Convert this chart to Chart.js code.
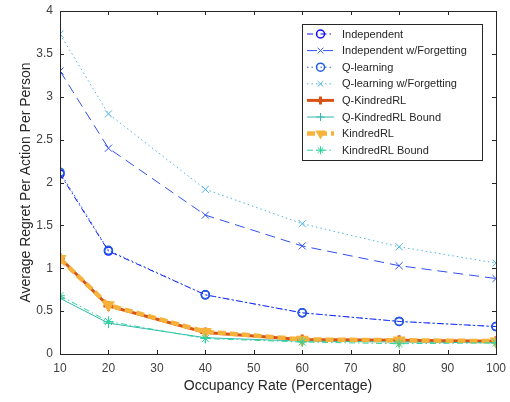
<!DOCTYPE html>
<html>
<head>
<meta charset="utf-8">
<script src="https://cdn.jsdelivr.net/npm/chart.js@4/dist/chart.umd.min.js"></script>
<style>
  body { margin: 0; background: #fff; }
  #wrap { width: 510px; height: 402px; }
</style>
</head>
<body>
<div id="wrap"><canvas id="regretChart" width="510" height="402"></canvas></div>
<script>
// Occupancy rate (x) values
const occupancy = [10, 20, 40, 60, 80, 100];

// Series values
const independent = [2.10, 1.20, 0.69, 0.48, 0.38, 0.32];
const independentForget = [3.30, 2.40, 1.62, 1.26, 1.03, 0.88];
const qLearning = [2.12, 1.21, 0.69, 0.48, 0.38, 0.32];
const qLearningForget = [3.73, 2.80, 1.92, 1.52, 1.25, 1.06];
const qKindred = [1.12, 0.56, 0.25, 0.17, 0.16, 0.15];
const qKindredBound = [0.65, 0.36, 0.19, 0.15, 0.14, 0.13];
const kindred = [1.11, 0.57, 0.26, 0.17, 0.16, 0.15];
const kindredBound = [0.68, 0.38, 0.18, 0.14, 0.12, 0.13];

const xTicks = [10, 20, 30, 40, 50, 60, 70, 80, 90, 100];
const yTicks = [0, 0.5, 1, 1.5, 2, 2.5, 3, 3.5, 4];
const yTickLabels = ["0", "0.5", "1", "1.5", "2", "2.5", "3", "3.5", "4"];

const FONT = "'Liberation Sans', Arial, sans-serif";
const AXIS = "#262626";

function pts(vals) {
    return occupancy.map((x, i) => ({ x: x, y: vals[i] }));
}

// series definitions (style only)
const series = [
    { label: "Independent", data: independent, color: "#1010ff", width: 1, dash: [6, 3, 1.5, 3], marker: "circle", r: 4, fill: false, mw: 1.5 },
    { label: "Independent w/Forgetting", data: independentForget, color: "#3050f0", width: 1, dash: [10, 6], marker: "crossRot", r: 5, fill: false, mw: 1 },
    { label: "Q-learning", data: qLearning, color: "#1f5fe0", width: 1, dash: [1.5, 3], marker: "circle", r: 4, fill: false, mw: 1.5 },
    { label: "Q-learning w/Forgetting", data: qLearningForget, color: "#4db4e6", width: 1, dash: [1.5, 3], marker: "crossRot", r: 5, fill: false, mw: 1 },
    { label: "Q-KindredRL", data: qKindred, color: "#d95319", width: 3, dash: [], marker: "cross", r: 5, fill: false, mw: 3 },
    { label: "Q-KindredRL Bound", data: qKindredBound, color: "#2fb8b0", width: 1, dash: [], marker: "cross", r: 5, fill: false, mw: 1 },
    { label: "KindredRL", data: kindred, color: "#f7b23b", width: 4.5, dash: [8, 4], marker: "triangle", r: 5.5, fill: true, mw: 2, rot: 180 },
    { label: "KindredRL Bound", data: kindredBound, color: "#2ed39a", width: 1, dash: [6, 3, 1.5, 3], marker: "star", r: 5, fill: false, mw: 1 }
];

const datasets = series.map((s, i) => ({
    label: s.label,
    data: pts(s.data),
    borderColor: s.color,
    backgroundColor: s.color,
    borderWidth: s.width,
    borderDash: s.dash,
    tension: 0,
    fill: false,
    pointStyle: s.marker,
    pointRadius: s.r,
    pointRotation: s.rot || 0,
    pointBorderColor: s.color,
    pointBackgroundColor: s.fill ? s.color : "rgba(0,0,0,0)",
    pointBorderWidth: s.mw,
    order: series.length - i // later series on top, like matlab
}));

// frame + inward ticks (matlab box style)
const framePlugin = {
    id: "frame",
    afterDraw(chart) {
        const { ctx, chartArea: a, scales } = chart;
        ctx.save();
        ctx.strokeStyle = AXIS;
        ctx.lineWidth = 1;
        ctx.setLineDash([]);
        ctx.strokeRect(Math.round(a.left) + 0.5, Math.round(a.top) + 0.5, Math.round(a.right - a.left), Math.round(a.bottom - a.top));
        const tl = 4;
        ctx.beginPath();
        xTicks.forEach(v => {
            const x = Math.round(scales.x.getPixelForValue(v)) + 0.5;
            ctx.moveTo(x, a.bottom); ctx.lineTo(x, a.bottom - tl);
            ctx.moveTo(x, a.top); ctx.lineTo(x, a.top + tl);
        });
        yTicks.forEach(v => {
            const y = Math.round(scales.y.getPixelForValue(v)) + 0.5;
            ctx.moveTo(a.left, y); ctx.lineTo(a.left + tl, y);
            ctx.moveTo(a.right, y); ctx.lineTo(a.right - tl, y);
        });
        ctx.stroke();
        ctx.restore();
    }
};

// legend box in the upper right, drawn by hand
const legendPlugin = {
    id: "boxLegend",
    afterDraw(chart) {
        const ctx = chart.ctx;
        const box = { left: 302.5, top: 24.5, w: 180, h: 136 };
        ctx.save();
        ctx.fillStyle = "#fff";
        ctx.fillRect(box.left, box.top, box.w, box.h);
        ctx.strokeStyle = AXIS;
        ctx.lineWidth = 1;
        ctx.strokeRect(box.left, box.top, box.w, box.h);
        ctx.font = "11px " + FONT;
        ctx.textBaseline = "middle";
        series.forEach((s, i) => {
            const y = 34 + i * 16.6;
            ctx.strokeStyle = s.color;
            ctx.lineWidth = s.width;
            ctx.setLineDash(s.dash);
            ctx.beginPath();
            ctx.moveTo(307, y);
            ctx.lineTo(334, y);
            ctx.stroke();
            ctx.setLineDash([]);
            ctx.lineWidth = s.mw;
            ctx.fillStyle = s.fill ? s.color : "rgba(0,0,0,0)";
            const r = Math.min(s.r, 4);
            Chart.helpers.drawPoint(ctx, { pointStyle: s.marker, radius: r, rotation: s.rot || 0, borderWidth: s.mw }, 320.5, y);
            ctx.fillStyle = AXIS;
            ctx.fillText(s.label, 342, y + 0.5);
        });
        ctx.restore();
    }
};

new Chart(document.getElementById("regretChart"), {
    type: "line",
    data: { datasets },
    options: {
        responsive: false,
        animation: false,
        layout: { padding: { top: 11, right: 14, left: 0, bottom: 0 } },
        plugins: {
            legend: { display: false },
            tooltip: { enabled: false }
        },
        scales: {
            x: {
                type: "linear",
                min: 10,
                max: 100,
                afterBuildTicks: (s) => { s.ticks = xTicks.map(v => ({ value: v })); },
                afterFit: (s) => { s.height = 48; s.paddingLeft = 0; s.paddingRight = 0; },
                grid: { display: false, drawTicks: false },
                border: { display: false },
                ticks: { color: "#404040", padding: 7, font: { family: FONT, size: 12 }, maxRotation: 0 },
                title: { display: true, text: "Occupancy Rate (Percentage)", color: AXIS, font: { family: FONT, size: 14 }, padding: { top: 0, bottom: 7 } }
            },
            y: {
                type: "linear",
                min: 0,
                max: 4,
                afterBuildTicks: (s) => { s.ticks = yTicks.map(v => ({ value: v })); },
                afterFit: (s) => { s.width = 60; s.paddingTop = 0; s.paddingBottom = 0; },
                grid: { display: false, drawTicks: false },
                border: { display: false },
                ticks: {
                    color: "#404040", padding: 7, font: { family: FONT, size: 12 },
                    callback: (v) => yTickLabels[yTicks.indexOf(v)]
                },
                title: { display: true, text: "Average Regret Per Action Per Person", color: AXIS, font: { family: FONT, size: 14 }, padding: { top: 18, bottom: 0 } }
            }
        }
    },
    plugins: [framePlugin, legendPlugin]
});
</script>
</body>
</html>
